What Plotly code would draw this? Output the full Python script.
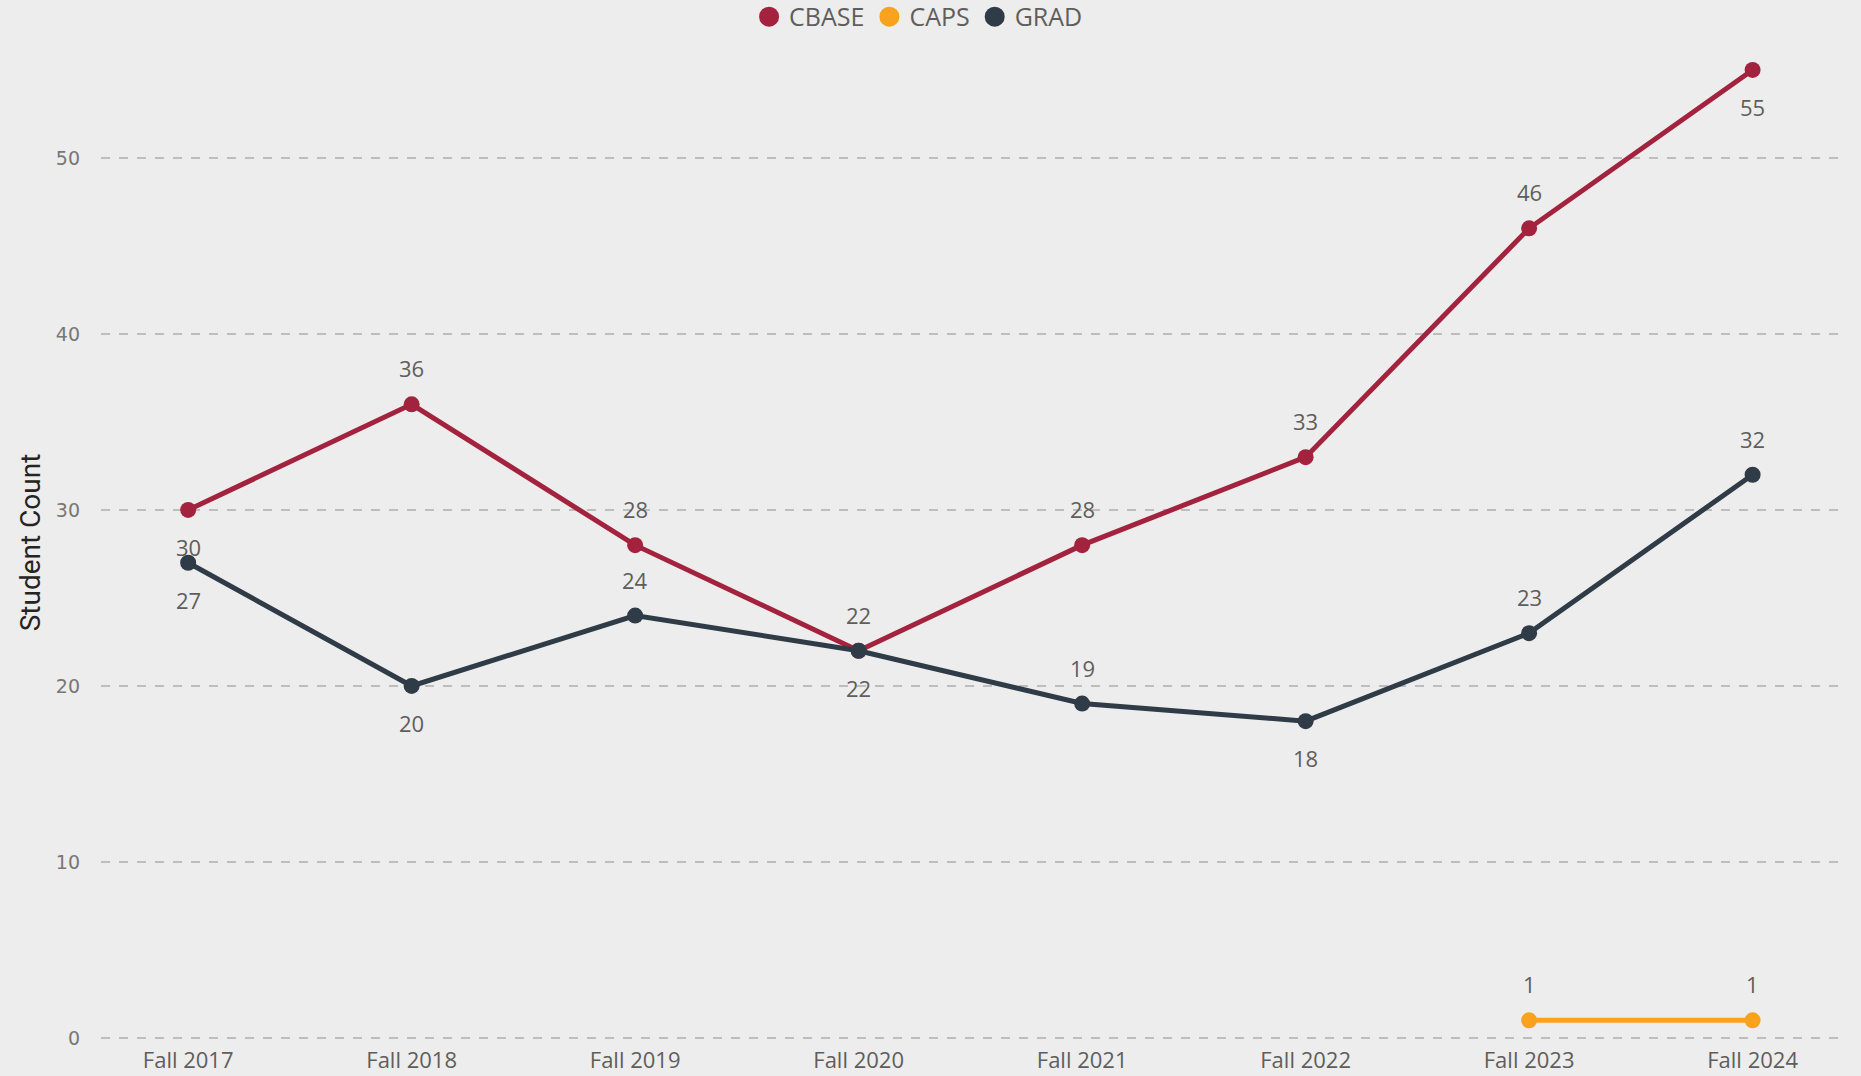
import plotly.graph_objects as go

terms = ["Fall 2017", "Fall 2018", "Fall 2019", "Fall 2020", "Fall 2021", "Fall 2022", "Fall 2023", "Fall 2024"]
cbase = [30, 36, 28, 22, 28, 33, 46, 55]
caps_terms = ["Fall 2023", "Fall 2024"]
caps = [1, 1]
grad = [27, 20, 24, 22, 19, 18, 23, 32]

cbase_pos = ["below", "above", "above", "below", "above", "above", "above", "below"]
caps_pos = ["above", "above"]
grad_pos = ["below", "below", "above", "above", "above", "below", "above", "above"]

C_CBASE = "#A3233F"
C_CAPS = "#F9A21E"
C_GRAD = "#2F3B46"
BG = "#ECEDEC"
FONT = "Open Sans, Noto Sans, sans-serif"

fig = go.Figure()
series = [("CBASE", terms, cbase, C_CBASE), ("CAPS", caps_terms, caps, C_CAPS), ("GRAD", terms, grad, C_GRAD)]
for name, xs, ys, col in series:
    fig.add_trace(go.Scatter(x=xs, y=ys, name=name, mode="lines+markers", showlegend=False,
                             line=dict(color=col, width=5),
                             marker=dict(color=col, size=16)))
# legend entries (circle markers only)
for name, xs, ys, col in series:
    fig.add_trace(go.Scatter(x=[None], y=[None], name=name, mode="markers",
                             marker=dict(color=col, size=16, line=dict(color=col, width=4)),
                             showlegend=True))

annos = []
for xs, ys, pos in [(terms, cbase, cbase_pos), (caps_terms, caps, caps_pos), (terms, grad, grad_pos)]:
    for x, y, p in zip(xs, ys, pos):
        annos.append(dict(x=x, y=y, text=str(y), showarrow=False,
                          yshift=36 if p == "above" else -37,
                          font=dict(family=FONT, size=22, color="#605E5C")))

fig.update_layout(
    width=1861, height=1076,
    paper_bgcolor=BG, plot_bgcolor=BG,
    margin=dict(l=101, r=19, t=40, b=31, autoexpand=False),
    showlegend=True,
    legend=dict(orientation="h", x=0.4696, xanchor="center", y=1.023, yanchor="middle",
                font=dict(family=FONT, size=25, color="#605E5C"),
                itemwidth=30, tracegroupgap=0,
                bgcolor="rgba(0,0,0,0)"),
    annotations=annos,
    xaxis=dict(type="category", categoryorder="array", categoryarray=terms,
               range=[-0.39, 7.4], showgrid=False, zeroline=False, showline=False,
               tickfont=dict(family=FONT, size=22, color="#605E5C"),
               ticks="", ticklabelstandoff=0, automargin=False),
    yaxis=dict(range=[-0.4, 56.7], dtick=10, showgrid=True, gridcolor="#BDBDBD", griddash="dash",
               gridwidth=1.5, zeroline=False, showline=False,
               tickfont=dict(family="DejaVu Sans, sans-serif", size=19, color="#777777"),
               title=dict(text="Student Count", font=dict(family="Liberation Sans Narrow, Roboto, sans-serif", size=28, color="#252423"), standoff=7),
               ticks="", ticklabelstandoff=20, automargin=False),
)

fig.write_html("out.html", config={"displayModeBar": False},
               post_script="document.body.style.margin='0';document.body.style.padding='0';")
